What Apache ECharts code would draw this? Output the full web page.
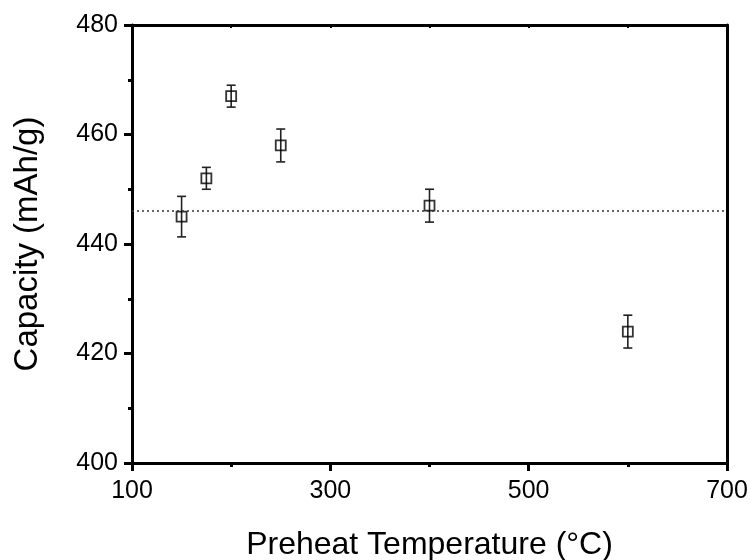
<!DOCTYPE html>
<html>
<head>
<meta charset="utf-8">
<script src="https://cdn.jsdelivr.net/npm/echarts@6/dist/echarts.min.js"></script>
<style>html,body{margin:0;padding:0;background:#fff;}#c{width:751px;height:560px;}</style>
</head>
<body>
<div id="c"></div>
<script>
var temperatures = [150, 175, 200, 250, 400, 600];
var capacities = [445, 452, 467, 458, 447, 424];
var errors = [3.7, 2, 2, 3, 3, 3];
var referenceLine = [446];
var xTicks = [100, 300, 500, 700];
var yTicks = [400, 420, 440, 460, 480];

var FONT = '"Liberation Sans", Arial, sans-serif';
var chart = echarts.init(document.getElementById('c'));

var pts = temperatures.map(function (t, i) { return [t, capacities[i]]; });
var errData = temperatures.map(function (t, i) { return [t, capacities[i] - errors[i], capacities[i] + errors[i]]; });

chart.setOption({
  animation: false,
  backgroundColor: '#fff',
  grid: { left: 132, right: 24, top: 25, bottom: 97, containLabel: false, outerBoundsMode: 'none' },
  xAxis: [{
    type: 'value', min: xTicks[0], max: xTicks[xTicks.length - 1], interval: 200,
    name: 'Preheat Temperature (°C)', nameLocation: 'middle', nameGap: 66,
    nameTextStyle: { fontFamily: FONT, fontSize: 32, color: '#000' },
    axisLine: { show: true, onZero: false, lineStyle: { color: '#000', width: 3 } },
    axisTick: { show: true, inside: false, length: 8, lineStyle: { color: '#000', width: 3 } },
    minorTick: { show: true, splitNumber: 2, length: 4, lineStyle: { color: '#000', width: 3 } },
    axisLabel: { fontFamily: FONT, fontSize: 25, color: '#000', margin: 16 },
    splitLine: { show: false }
  }, {
    type: 'value', position: 'top', min: 100, max: 700, interval: 200,
    axisLine: { show: true, onZero: false, lineStyle: { color: '#000', width: 3 } },
    axisTick: { show: true, inside: true, length: 3, lineStyle: { color: '#000', width: 2 } },
    minorTick: { show: true, splitNumber: 2, length: 3, lineStyle: { color: '#000', width: 2 } },
    axisLabel: { show: false }, splitLine: { show: false }
  }],
  yAxis: [{
    type: 'value', min: yTicks[0], max: yTicks[yTicks.length - 1], interval: 20,
    name: 'Capacity (mAh/g)', nameLocation: 'middle', nameGap: 88,
    nameTextStyle: { fontFamily: FONT, fontSize: 33, color: '#000' },
    axisLine: { show: true, onZero: false, lineStyle: { color: '#000', width: 3 } },
    axisTick: { show: true, inside: false, length: 8, lineStyle: { color: '#000', width: 3 } },
    minorTick: { show: true, splitNumber: 2, length: 4, lineStyle: { color: '#000', width: 3 } },
    axisLabel: { fontFamily: FONT, fontSize: 25, color: '#000', margin: 14 },
    splitLine: { show: false }
  }, {
    type: 'value', position: 'right', min: 400, max: 480, interval: 20,
    axisLine: { show: true, onZero: false, lineStyle: { color: '#000', width: 3 } },
    axisTick: { show: false }, axisLabel: { show: false }, splitLine: { show: false }
  }],
  series: [{
    type: 'line', data: [], silent: true,
    markLine: {
      symbol: 'none', silent: true, label: { show: false },
      lineStyle: { type: [2, 3], color: '#333', width: 1.5 },
      data: referenceLine.map(function (v) { return { yAxis: v }; })
    }
  }, {
    type: 'custom', data: errData, z: 3,
    renderItem: function (params, api) {
      var x = api.value(0);
      var lo = api.coord([x, api.value(1)]);
      var hi = api.coord([x, api.value(2)]);
      var cw = 4.5;
      var st = { stroke: '#222', lineWidth: 1.6 };
      return { type: 'group', children: [
        { type: 'line', shape: { x1: lo[0], y1: lo[1], x2: hi[0], y2: hi[1] }, style: st },
        { type: 'line', shape: { x1: lo[0] - cw, y1: lo[1], x2: lo[0] + cw, y2: lo[1] }, style: st },
        { type: 'line', shape: { x1: hi[0] - cw, y1: hi[1], x2: hi[0] + cw, y2: hi[1] }, style: st }
      ] };
    }
  }, {
    type: 'scatter', data: pts, z: 4, symbol: 'rect', symbolSize: 10,
    itemStyle: { color: 'rgba(255,255,255,0)', borderColor: '#000', borderWidth: 1.8 }
  }]
});
</script>
</body>
</html>
